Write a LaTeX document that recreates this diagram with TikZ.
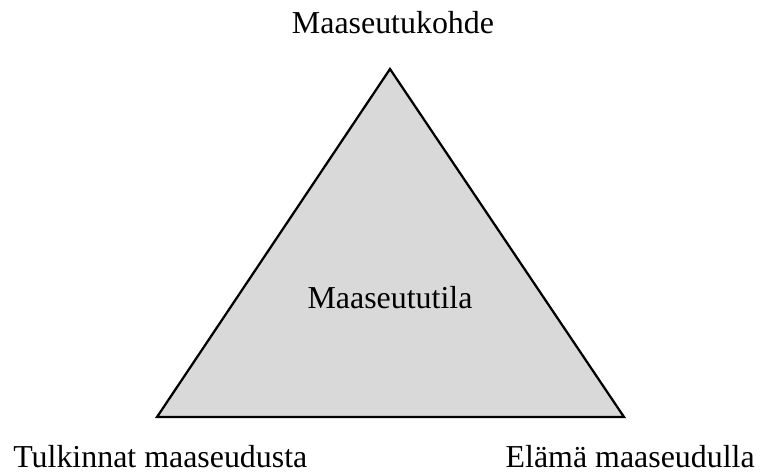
\documentclass[tikz,border=0pt]{standalone}
\usepackage{fontspec}
\setmainfont{Liberation Serif}
\usepackage{tikz}
\usetikzlibrary{positioning, calc}
\definecolor{mydark}{RGB}{0,0,0}
\definecolor{mygray}{RGB}{217,217,217}
\tikzset{
  corner/.style={font=\fontsize{22.7}{27}\selectfont, color=mydark, inner sep=0pt},
  tri/.style={draw=mydark, fill=mygray, line width=1.6pt, line join=miter}
}

\begin{document}
\begin{tikzpicture}[x=0.025cm, y=-0.025cm]
  \useasboundingbox (0,0) rectangle (760,474);

  % Triangle corners
  \coordinate (top) at (390,69);
  \coordinate (left) at (157,417);
  \coordinate (right) at (624,417);

  % Triangle
  \draw[tri] (top) -- (right) -- (left) -- cycle;

  % Labels
  \node[corner, anchor=base] (kohde) at (393,33) {Maaseutukohde};
  \node[corner, anchor=base] (tila) at (390,308) {Maaseututila};
  \node[corner, anchor=base west] (tulkinnat) at (13,467) {Tulkinnat maaseudusta};
  \node[corner, anchor=base east] (elama) at (755,467) {Elämä maaseudulla};
\end{tikzpicture}
\end{document}
